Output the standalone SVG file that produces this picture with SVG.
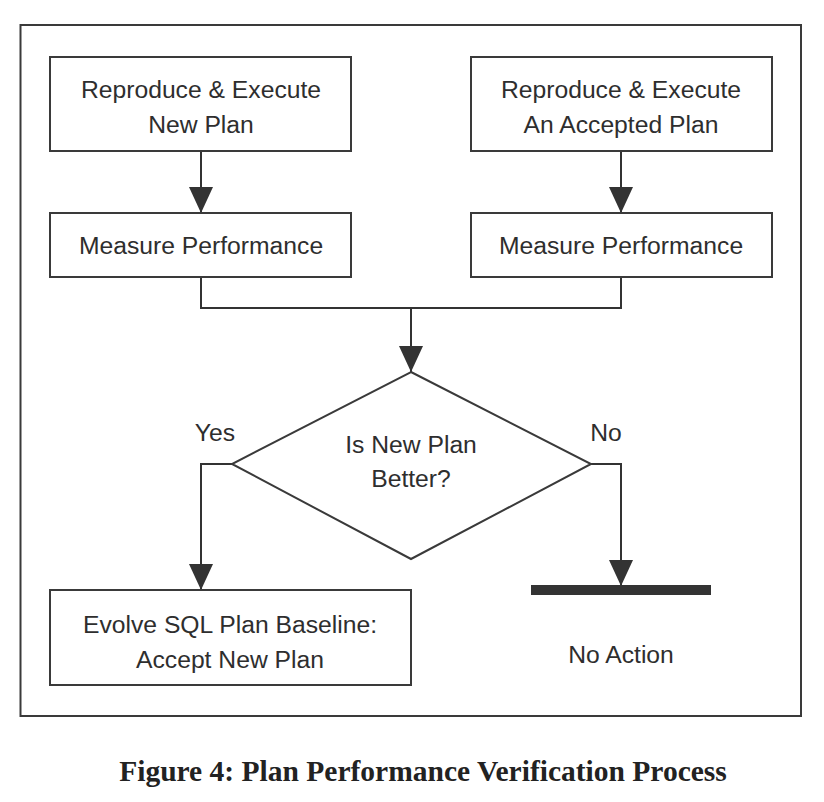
<svg xmlns="http://www.w3.org/2000/svg" width="824" height="802" viewBox="0 0 824 802">
<style>
.box{fill:#fff;stroke:#3a3a3a;stroke-width:2}
.t{font-family:"Liberation Sans",Arial,sans-serif;font-size:24.7px;fill:#2e2e2e;text-anchor:middle}
.c{fill:none;stroke:#333;stroke-width:2}
.cap{font-family:"Liberation Serif","Times New Roman",serif;font-size:29.5px;font-weight:bold;fill:#222;text-anchor:middle}
</style>
<defs>
<marker id="ah" markerUnits="userSpaceOnUse" markerWidth="26" markerHeight="26" viewBox="0 0 26 26" refX="26" refY="13" orient="auto">
<path d="M0,1 L26,13 L0,25 Z" fill="#333"/>
</marker>
</defs>
<rect x="20.5" y="25" width="780.5" height="691" fill="#fff" stroke="#3a3a3a" stroke-width="2"/>
<g id="connectors">
<line class="c" x1="201" y1="151" x2="201" y2="213" marker-end="url(#ah)"/>
<line class="c" x1="621" y1="151" x2="621" y2="213" marker-end="url(#ah)"/>
<polyline class="c" points="201,277 201,308 621,308 621,277"/>
<line class="c" x1="411" y1="308" x2="411" y2="372" marker-end="url(#ah)"/>
<polyline class="c" points="232,464 201,464 201,590" marker-end="url(#ah)"/>
<polyline class="c" points="591,464 621,464 621,586" marker-end="url(#ah)"/>
<text class="t" x="215" y="441">Yes</text>
<text class="t" x="606" y="441">No</text>
</g>
<g id="n1">
<rect class="box" x="50" y="57" width="301" height="94"/>
<text class="t" x="201" y="98">Reproduce &amp; Execute</text>
<text class="t" x="201" y="133">New Plan</text>
</g>
<g id="n2">
<rect class="box" x="471" y="57" width="301" height="94"/>
<text class="t" x="621" y="98">Reproduce &amp; Execute</text>
<text class="t" x="621" y="133">An Accepted Plan</text>
</g>
<g id="n3">
<rect class="box" x="50" y="213" width="301" height="64"/>
<text class="t" x="201" y="254">Measure Performance</text>
</g>
<g id="n4">
<rect class="box" x="471" y="213" width="301" height="64"/>
<text class="t" x="621" y="254">Measure Performance</text>
</g>
<g id="n5">
<polygon class="box" points="411,372 591,464 411,559 232,464"/>
<text class="t" x="411" y="453">Is New Plan</text>
<text class="t" x="411" y="487">Better?</text>
</g>
<g id="n6">
<rect class="box" x="50" y="590" width="361" height="95"/>
<text class="t" x="230" y="633">Evolve SQL Plan Baseline:</text>
<text class="t" x="230" y="668">Accept New Plan</text>
</g>
<g id="n7">
<rect x="531" y="585" width="180" height="10" fill="#333"/>
<text class="t" x="621" y="663">No Action</text>
</g>
<text class="cap" x="423" y="781">Figure 4: Plan Performance Verification Process</text>
</svg>
